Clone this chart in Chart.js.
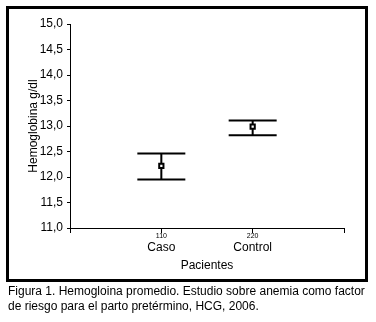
<!DOCTYPE html>
<html>
<head>
<meta charset="utf-8">
<script src="https://cdn.jsdelivr.net/npm/chart.js@4"></script>
<style>
  html, body { margin: 0; padding: 0; background: #fff; }
  canvas { display: block; }
</style>
</head>
<body>
<canvas id="graficoHemoglobina" width="376" height="322"></canvas>
<script>
const categorias = ['Caso', 'Control'];
const tamanoMuestra = [110, 220];
const medias = [12.22, 12.99];
const limiteInferior = [11.95, 12.82];
const limiteSuperior = [12.46, 13.11];
const marcasY = [11.0, 11.5, 12.0, 12.5, 13.0, 13.5, 14.0, 14.5, 15.0];
const leyenda = [
    'Figura 1. Hemogloina promedio. Estudio sobre anemia como factor',
    'de riesgo para el parto pretérmino, HCG, 2006.'
];

const fuente = '"Liberation Sans", Arial, sans-serif';

// barras de error, recuadro y pie de figura
const pluginFigura = {
    id: 'figura',
    beforeDraw(chart) {
        const ctx = chart.ctx;
        ctx.save();
        ctx.fillStyle = '#fff';
        ctx.fillRect(0, 0, chart.width, chart.height);
        ctx.restore();
    },
    beforeDatasetsDraw(chart) {
        const ctx = chart.ctx;
        const x = chart.scales.x;
        const y = chart.scales.y;
        ctx.save();
        ctx.strokeStyle = '#000';
        ctx.lineWidth = 2;
        for (let i = 0; i < categorias.length; i++) {
            const px = x.getPixelForValue(i + 1);
            const yLo = y.getPixelForValue(limiteInferior[i]);
            const yHi = y.getPixelForValue(limiteSuperior[i]);
            ctx.beginPath();
            ctx.moveTo(px, yLo);
            ctx.lineTo(px, yHi);
            ctx.moveTo(px - 24, yLo);
            ctx.lineTo(px + 24, yLo);
            ctx.moveTo(px - 24, yHi);
            ctx.lineTo(px + 24, yHi);
            ctx.stroke();
        }
        ctx.restore();
    },
    afterDraw(chart) {
        const ctx = chart.ctx;
        const x = chart.scales.x;
        ctx.save();
        // n de cada grupo
        ctx.fillStyle = '#000';
        ctx.font = '7px ' + fuente;
        ctx.textAlign = 'center';
        ctx.textBaseline = 'middle';
        for (let i = 0; i < categorias.length; i++) {
            ctx.fillText(String(tamanoMuestra[i]), x.getPixelForValue(i + 1), 236.5);
        }
        // recuadro
        ctx.strokeStyle = '#000';
        ctx.lineWidth = 3;
        ctx.strokeRect(7.5, 7.5, 359, 273);
        // pie de figura
        ctx.font = '12px ' + fuente;
        ctx.textAlign = 'left';
        ctx.fillText(leyenda[0], 8, 292);
        ctx.fillText(leyenda[1], 8, 307);
        ctx.restore();
    }
};

document.addEventListener('DOMContentLoaded', function () {
    const datos = {
        datasets: [{
            label: 'Media',
            data: medias.map((m, i) => ({ x: i + 1, y: m })),
            showLine: false,
            pointStyle: 'rect',
            pointRadius: 3,
            pointBorderWidth: 2,
            pointBorderColor: '#000',
            pointBackgroundColor: '#fff'
        }]
    };

    const configuracion = {
        type: 'scatter',
        data: datos,
        options: {
            responsive: false,
            animation: false,
            layout: { padding: { left: 0, top: 24, right: 32, bottom: 0 } },
            plugins: {
                legend: { display: false },
                tooltip: { enabled: false }
            },
            scales: {
                x: {
                    type: 'linear',
                    min: 0,
                    max: categorias.length + 1,
                    afterFit: s => { s.height = 94; },
                    afterBuildTicks: s => {
                        s.ticks = [0, 1, 2, 3].map(v => ({ value: v }));
                    },
                    grid: { drawOnChartArea: false, tickLength: 5, color: '#000', lineWidth: 1 },
                    border: { color: '#000', width: 1 },
                    ticks: {
                        color: '#000',
                        font: { family: fuente, size: 12 },
                        padding: 7,
                        maxRotation: 0,
                        autoSkip: false,
                        callback: v => categorias[v - 1] || ''
                    },
                    title: {
                        display: true,
                        text: 'Pacientes',
                        color: '#000',
                        font: { family: fuente, size: 12 },
                        padding: { top: 0, bottom: 49 }
                    }
                },
                y: {
                    min: 11,
                    max: 15,
                    afterFit: s => { s.width = 70; },
                    afterBuildTicks: s => {
                        s.ticks = marcasY.map(v => ({ value: v }));
                    },
                    grid: { drawOnChartArea: false, tickLength: 3, color: '#000', lineWidth: 1 },
                    border: { color: '#000', width: 1 },
                    ticks: {
                        color: '#000',
                        font: { family: fuente, size: 12 },
                        padding: 4,
                        callback: v => v.toFixed(1).replace('.', ',')
                    },
                    title: {
                        display: true,
                        text: 'Hemoglobina g/dl',
                        color: '#000',
                        font: { family: fuente, size: 12 },
                        padding: { top: 26, bottom: 0 }
                    }
                }
            }
        },
        plugins: [pluginFigura]
    };

    new Chart(document.getElementById('graficoHemoglobina'), configuracion);
});
</script>
</body>
</html>
